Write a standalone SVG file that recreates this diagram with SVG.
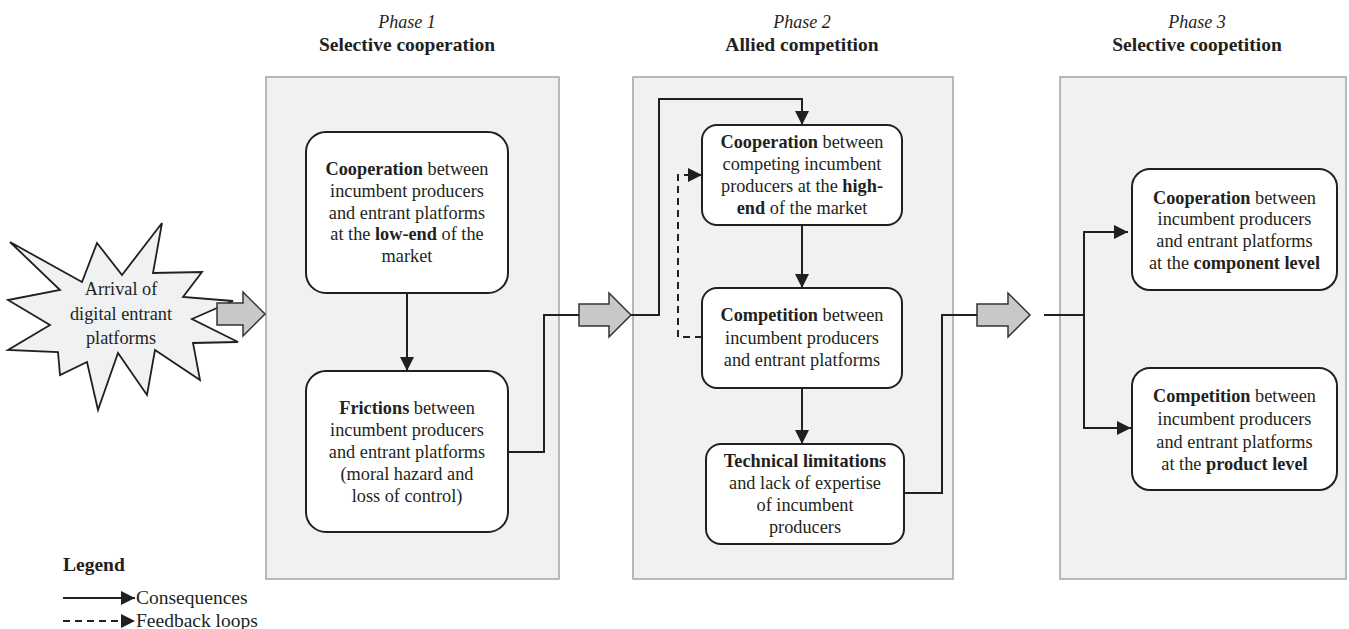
<svg xmlns="http://www.w3.org/2000/svg" width="1349" height="629" viewBox="0 0 1349 629">
<style>
text { font-family: "Liberation Serif", Tinos, "Times New Roman", serif; fill: #231f20; }
.t { font-size: 18.3px; text-anchor: middle; }
.b { font-weight: bold; }
.ph { font-size: 18px; font-style: italic; text-anchor: middle; }
.ti { font-size: 19.5px; font-weight: bold; text-anchor: middle; }
.panel { fill: #f0f1f3; stroke: #a3a3a3; stroke-width: 1.5; }
.box { fill: #ffffff; stroke: #231f20; stroke-width: 2; }
.big { fill: #c8c8c8; stroke: #333333; stroke-width: 1.5; stroke-linejoin: miter; }
.c { fill: none; stroke: #231f20; stroke-width: 2; }
.d { fill: none; stroke: #231f20; stroke-width: 2; stroke-dasharray: 7 5; }
.lg { font-size: 19.5px; }
</style>
<defs>
<marker id="ah" markerUnits="userSpaceOnUse" markerWidth="14" markerHeight="14" refX="14" refY="7" orient="auto">
<path d="M0,0 L14,7 L0,14 Z" fill="#231f20"/>
</marker>
</defs>

<g id="titles">
<text class="ph" x="407" y="28">Phase 1</text>
<text class="ti" x="407" y="51">Selective cooperation</text>
<text class="ph" x="802" y="28">Phase 2</text>
<text class="ti" x="802" y="51">Allied competition</text>
<text class="ph" x="1197" y="28">Phase 3</text>
<text class="ti" x="1197" y="51">Selective coopetition</text>
</g>

<g id="panels">
<rect class="panel" x="266" y="77" width="293" height="502"/>
<rect class="panel" x="633" y="77" width="320" height="502"/>
<rect class="panel" x="1060" y="77" width="286" height="502"/>
</g>

<g id="arrival">
<polygon points="162,223 153,273 202,272 183,297 233,301 192,319 238,342 193,343 200,380 155,350 147,395 118,353 98,410 87,362 60,375 58,352 8,350 50,325 8,300 60,290 10,242 82,282 97,243 122,275" fill="#f0f1f3" stroke="#231f20" stroke-width="1.8" stroke-linejoin="miter"/>
<text class="t" x="121" y="294.5">Arrival of</text>
<text class="t" x="121" y="319.5">digital entrant</text>
<text class="t" x="121" y="343.5">platforms</text>
</g>

<g id="bigarrows">
<polygon class="big" points="217,303 243,303 243,292 265,314 243,336 243,325 217,325"/>
<polygon class="big" points="579,304 609,304 609,293 631,315 609,337 609,326 579,326"/>
<polygon class="big" points="977,304 1008,304 1008,293 1030,315 1008,337 1008,326 977,326"/>
</g>

<g id="p1-coop">
<rect class="box" x="306" y="132" width="202" height="161" rx="20"/>
<text class="t" x="407" y="175"><tspan class="b">Cooperation</tspan> between</text>
<text class="t" x="407" y="197">incumbent producers</text>
<text class="t" x="407" y="218.5">and entrant platforms</text>
<text class="t" x="407" y="240">at the <tspan class="b">low-end</tspan> of the</text>
<text class="t" x="407" y="262">market</text>
</g>

<g id="p1-frictions">
<rect class="box" x="306" y="371" width="202" height="161" rx="20"/>
<text class="t" x="407" y="414"><tspan class="b">Frictions</tspan> between</text>
<text class="t" x="407" y="436">incumbent producers</text>
<text class="t" x="407" y="458">and entrant platforms</text>
<text class="t" x="407" y="480">(moral hazard and</text>
<text class="t" x="407" y="502">loss of control)</text>
</g>

<g id="p2-coop">
<rect class="box" x="702" y="125" width="200" height="100" rx="15"/>
<text class="t" x="802" y="148"><tspan class="b">Cooperation</tspan> between</text>
<text class="t" x="802" y="170">competing incumbent</text>
<text class="t" x="802" y="192">producers at the <tspan class="b">high-</tspan></text>
<text class="t" x="802" y="214"><tspan class="b">end</tspan> of the market</text>
</g>

<g id="p2-comp">
<rect class="box" x="702" y="288" width="200" height="100" rx="15"/>
<text class="t" x="802" y="321"><tspan class="b">Competition</tspan> between</text>
<text class="t" x="802" y="343.5">incumbent producers</text>
<text class="t" x="802" y="366">and entrant platforms</text>
</g>

<g id="p2-tech">
<rect class="box" x="706" y="444" width="198" height="100" rx="15"/>
<text class="t" x="805" y="467"><tspan class="b">Technical limitations</tspan></text>
<text class="t" x="805" y="489">and lack of expertise</text>
<text class="t" x="805" y="511">of incumbent</text>
<text class="t" x="805" y="533">producers</text>
</g>

<g id="p3-coop">
<rect class="box" x="1132" y="169" width="205" height="121" rx="18"/>
<text class="t" x="1234.5" y="203.5"><tspan class="b">Cooperation</tspan> between</text>
<text class="t" x="1234.5" y="225">incumbent producers</text>
<text class="t" x="1234.5" y="247">and entrant platforms</text>
<text class="t" x="1234.5" y="269">at the <tspan class="b">component level</tspan></text>
</g>

<g id="p3-comp">
<rect class="box" x="1132" y="368" width="205" height="122" rx="18"/>
<text class="t" x="1234.5" y="402"><tspan class="b">Competition</tspan> between</text>
<text class="t" x="1234.5" y="425">incumbent producers</text>
<text class="t" x="1234.5" y="447.5">and entrant platforms</text>
<text class="t" x="1234.5" y="469.5">at the <tspan class="b">product level</tspan></text>
</g>

<g id="connectors">
<path class="c" d="M407,293 L407,371" marker-end="url(#ah)"/>
<path class="c" d="M508,452 L544,452 L544,315 L579,315"/>
<path class="c" d="M631,315 L659,315 L659,99 L802,99 L802,125" marker-end="url(#ah)"/>
<path class="d" d="M702,337 L678,337 L678,175 L702,175" marker-end="url(#ah)"/>
<path class="c" d="M802,225 L802,288" marker-end="url(#ah)"/>
<path class="c" d="M802,388 L802,444" marker-end="url(#ah)"/>
<path class="c" d="M904,493 L942,493 L942,315 L977,315"/>
<path class="c" d="M1044,315 L1084,315"/>
<path class="c" d="M1084,315 L1084,232 L1128,232" marker-end="url(#ah)"/>
<path class="c" d="M1084,315 L1084,428 L1131,428" marker-end="url(#ah)"/>
</g>

<g id="legend">
<text class="lg b" x="63" y="571">Legend</text>
<path class="c" d="M63,598 L135,598" marker-end="url(#ah)"/>
<text class="lg" x="136" y="604">Consequences</text>
<path class="d" d="M63,621 L135,621" marker-end="url(#ah)"/>
<text class="lg" x="136" y="627">Feedback loops</text>
</g>
</svg>
